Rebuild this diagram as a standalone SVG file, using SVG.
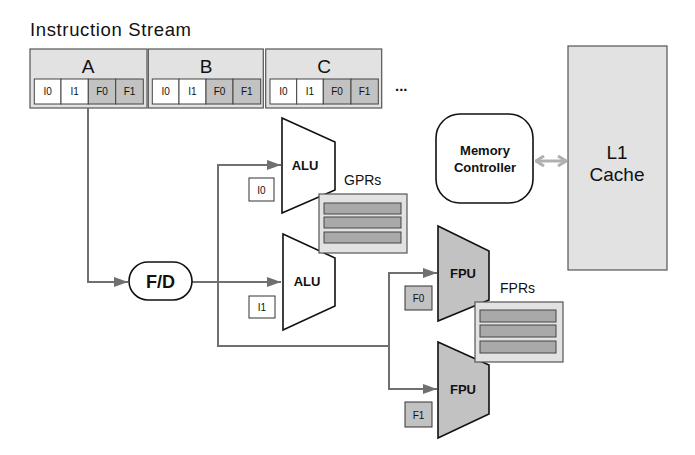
<svg xmlns="http://www.w3.org/2000/svg" width="695" height="455" viewBox="0 0 695 455">
<defs>
<style>
text{font-family:"Liberation Sans",Arial,sans-serif;fill:#111}
.blk{fill:#e2e2e2;stroke:#555;stroke-width:1.2}
.cw{fill:#fff;stroke:#444;stroke-width:1}
.cg{fill:#c2c2c2;stroke:#444;stroke-width:1}
.ct{font-size:10px;text-anchor:middle}
.big{font-size:19px;text-anchor:middle}
.conn{fill:none;stroke:#707070;stroke-width:2}
.unit{stroke:#111;stroke-width:1.6}
.bl{font-size:13px;font-weight:bold;text-anchor:middle}
.reg{fill:#e2e2e2;stroke:#555;stroke-width:1.2}
.row{fill:#a9a9a9;stroke:#444;stroke-width:1}
.lbl{font-size:14px}
</style>
<marker id="ah" viewBox="0 0 14 10" refX="14" refY="5" markerWidth="14" markerHeight="10" markerUnits="userSpaceOnUse" orient="auto">
<path d="M0,0 L14,5 L0,10 Z" fill="#707070"/>
</marker>
<marker id="ch" viewBox="0 0 10 12" refX="9" refY="6" markerWidth="10" markerHeight="12" markerUnits="userSpaceOnUse" orient="auto-start-reverse">
<path d="M1,1 L9,6 L1,11" fill="none" stroke="#b0b0b0" stroke-width="3"/>
</marker>
</defs>
<rect width="695" height="455" fill="#fff"/>

<text x="30" y="36" font-size="18.5" textLength="161">Instruction Stream</text>

<g id="instrA">
<rect class="blk" x="30" y="49" width="117" height="59"/>
<text class="big" x="88" y="73">A</text>
<rect class="cw" x="34.3" y="79" width="26.7" height="25"/>
<rect class="cw" x="61" y="79" width="27.3" height="25"/>
<rect class="cg" x="88.3" y="79" width="27.4" height="25"/>
<rect class="cg" x="115.7" y="79" width="27.6" height="25"/>
<text class="ct" x="47.6" y="95">I0</text><text class="ct" x="74.6" y="95">I1</text><text class="ct" x="102" y="95">F0</text><text class="ct" x="129.5" y="95">F1</text>
</g>
<g id="instrB">
<rect class="blk" x="148.3" y="49" width="115" height="59"/>
<text class="big" x="206" y="73">B</text>
<rect class="cw" x="152.3" y="79" width="26.7" height="25"/>
<rect class="cw" x="179" y="79" width="27" height="25"/>
<rect class="cg" x="206" y="79" width="27" height="25"/>
<rect class="cg" x="233" y="79" width="27.7" height="25"/>
<text class="ct" x="165.6" y="95">I0</text><text class="ct" x="192.5" y="95">I1</text><text class="ct" x="219.5" y="95">F0</text><text class="ct" x="246.8" y="95">F1</text>
</g>
<g id="instrC">
<rect class="blk" x="265.7" y="49" width="116" height="59"/>
<text class="big" x="324" y="73">C</text>
<rect class="cw" x="270" y="79" width="26.7" height="25"/>
<rect class="cw" x="296.7" y="79" width="26.6" height="25"/>
<rect class="cg" x="323.3" y="79" width="27.7" height="25"/>
<rect class="cg" x="351" y="79" width="27.3" height="25"/>
<text class="ct" x="283.3" y="95">I0</text><text class="ct" x="310" y="95">I1</text><text class="ct" x="337.1" y="95">F0</text><text class="ct" x="364.6" y="95">F1</text>
</g>
<text x="395" y="91" font-size="15" font-weight="bold">...</text>

<g id="connectors">
<polyline class="conn" points="88,108 88,282 128,282" marker-end="url(#ah)"/>
<polyline class="conn" points="192,282 281,282" marker-end="url(#ah)"/>
<polyline class="conn" points="218,282 218,165 281,165" marker-end="url(#ah)"/>
<polyline class="conn" points="218,282 218,346 389,346"/>
<polyline class="conn" points="389,346 389,273 437,273" marker-end="url(#ah)"/>
<polyline class="conn" points="389,346 389,389 437,389" marker-end="url(#ah)"/>
<line x1="536" y1="161" x2="566" y2="161" stroke="#b0b0b0" stroke-width="3" marker-start="url(#ch)" marker-end="url(#ch)"/>
</g>

<g id="fd">
<rect x="129" y="262" width="63" height="38" rx="19" fill="#fff" stroke="#111" stroke-width="1.6"/>
<text x="160.5" y="288" font-size="18" font-weight="bold" text-anchor="middle">F/D</text>
</g>

<g id="alu1">
<polygon class="unit" points="282,118 335,142 335,190 282,213" fill="#fff"/>
<text class="bl" x="305" y="170">ALU</text>
<rect x="249" y="178" width="25" height="23" fill="#fff" stroke="#333" stroke-width="1"/>
<text class="ct" x="261.5" y="194">I0</text>
</g>
<g id="alu2">
<polygon class="unit" points="283,234 335,258 335,306 283,330" fill="#fff"/>
<text class="bl" x="307" y="286">ALU</text>
<rect x="249" y="296" width="26" height="22" fill="#fff" stroke="#333" stroke-width="1"/>
<text class="ct" x="262" y="311">I1</text>
</g>

<g id="gprs">
<text class="lbl" x="344" y="185">GPRs</text>
<rect class="reg" x="319" y="194" width="88" height="59"/>
<rect class="row" x="324" y="203" width="77" height="11"/>
<rect class="row" x="324" y="217" width="77" height="11"/>
<rect class="row" x="324" y="232" width="77" height="11"/>
</g>

<g id="fpu1">
<polygon class="unit" points="438,226 489,251 489,300 438,321" fill="#c2c2c2"/>
<text class="bl" x="463" y="278">FPU</text>
<rect x="405" y="286" width="27" height="24" fill="#c2c2c2" stroke="#333" stroke-width="1"/>
<text class="ct" x="418.5" y="302">F0</text>
</g>
<g id="fpu2">
<polygon class="unit" points="438,342 489,365 489,414 438,438" fill="#c2c2c2"/>
<text class="bl" x="463" y="394">FPU</text>
<rect x="405" y="402" width="27" height="25" fill="#c2c2c2" stroke="#333" stroke-width="1"/>
<text class="ct" x="418.5" y="419">F1</text>
</g>

<g id="fprs">
<text class="lbl" x="500" y="293">FPRs</text>
<rect class="reg" x="475" y="302" width="88" height="60"/>
<rect class="row" x="480" y="310" width="76" height="12"/>
<rect class="row" x="480" y="325" width="76" height="12"/>
<rect class="row" x="480" y="341" width="76" height="12"/>
</g>

<g id="memctrl">
<rect x="436" y="114" width="97" height="89" rx="24" fill="#fff" stroke="#111" stroke-width="1.6"/>
<text class="bl" x="485" y="155">Memory</text>
<text class="bl" x="485" y="172">Controller</text>
</g>

<g id="l1">
<rect x="568" y="46" width="99" height="224" fill="#e2e2e2" stroke="#555" stroke-width="1.2"/>
<text x="617" y="159" font-size="19" text-anchor="middle">L1</text>
<text x="617" y="181" font-size="19" text-anchor="middle">Cache</text>
</g>
</svg>
